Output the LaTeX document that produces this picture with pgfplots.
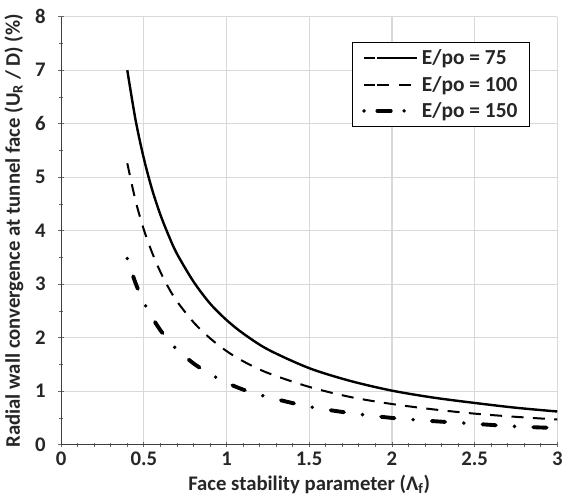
\documentclass[border=0pt]{standalone}
\usepackage{pgfplots}
\pgfplotsset{compat=1.18}
\usepackage{fontspec}
\setmainfont{Carlito}
\definecolor{GridGray}{RGB}{217,217,217}
\definecolor{TextDark}{RGB}{38,38,38}
\pgfplotsset{ddleg/.style={legend image code/.code={%
  \path (0cm,0cm) -- (0.3cm,0cm);
  \draw[##1, dash pattern=on 10pt off 10pt on 0pt off 20pt] (0.35cm,0cm) -- (1.4cm,0cm);}}}

\begin{document}
\begin{tikzpicture}
\begin{axis}[
  width=371pt, height=320pt,
  scale only axis,
  xmin=0, xmax=3, ymin=0, ymax=8,
  xtick={0,0.5,...,3}, ytick={0,1,...,8},
  minor x tick num=4, minor y tick num=1,
  tick align=inside,
  major tick length=4pt, minor tick length=3pt,
  axis x line=bottom, axis y line=left,
  axis line style={black!75, -, line width=0.9pt},
  every tick/.style={black!60, line width=0.6pt},
  grid=major,
  major grid style={GridGray, line width=0.9pt},
  /pgf/number format/assume math mode=true,
  ticklabel style={font=\fontsize{15.5}{18}\selectfont\bfseries, text=TextDark},
  xticklabel style={yshift=0pt},
  yticklabel style={xshift=-6pt},
  xlabel={Face stability parameter (Λ\textsubscript{f})},
  ylabel={Radial wall convergence at tunnel face (U\textsubscript{R} / D) (\%)},
  label style={font=\fontsize{15.5}{18}\selectfont\bfseries, text=TextDark},
  xlabel style={yshift=0pt},
  ylabel style={yshift=2pt},
  legend style={at={(0.945,0.94)}, anchor=north east, draw=black, line width=0.8pt,
    font=\fontsize{16}{19}\selectfont\bfseries, text=TextDark,
    inner xsep=7pt, inner ysep=3pt, row sep=3pt},
  legend cell align=left,
  legend image code/.code={\path (0cm,0cm) -- (0.3cm,0cm);
    \draw[#1] (0.35cm,0cm) -- (1.4cm,0cm);},
]
\addplot[black, line width=1.8pt, smooth] coordinates {
(0.4,7.00)(0.45,6.07)(0.5,5.35)(0.55,4.77)(0.6,4.30)(0.65,3.91)(0.7,3.57)
(0.8,3.05)(0.9,2.64)(1.0,2.33)(1.1,2.08)(1.25,1.78)(1.5,1.43)(1.75,1.19)
(2.0,1.01)(2.25,0.88)(2.5,0.78)(2.75,0.69)(3.0,0.62)};
\addlegendentry{E/po = 75}
\addplot[black, line width=1.5pt, smooth, dash pattern=on 9pt off 7pt] coordinates {
(0.4,5.26)(0.45,4.56)(0.5,4.02)(0.55,3.59)(0.6,3.23)(0.65,2.93)(0.7,2.68)
(0.8,2.29)(0.9,1.99)(1.0,1.75)(1.1,1.56)(1.25,1.34)(1.5,1.08)(1.75,0.89)
(2.0,0.76)(2.25,0.66)(2.5,0.58)(2.75,0.52)(3.0,0.47)};
\addlegendentry{E/po = 100}
\addplot[black, line width=2.9pt, smooth, line cap=round,
  dash pattern=on 0pt off 14pt on 10pt off 14pt, ddleg] coordinates {
(0.4,3.48)(0.45,3.02)(0.5,2.66)(0.55,2.38)(0.6,2.14)(0.65,1.95)(0.7,1.78)
(0.8,1.52)(0.9,1.32)(1.0,1.16)(1.1,1.03)(1.25,0.89)(1.5,0.71)(1.75,0.59)
(2.0,0.50)(2.25,0.44)(2.5,0.39)(2.75,0.34)(3.0,0.31)};
\addlegendentry{E/po = 150}
\end{axis}
\path ([yshift=12.5pt]current axis.north west);
\end{tikzpicture}
\end{document}
